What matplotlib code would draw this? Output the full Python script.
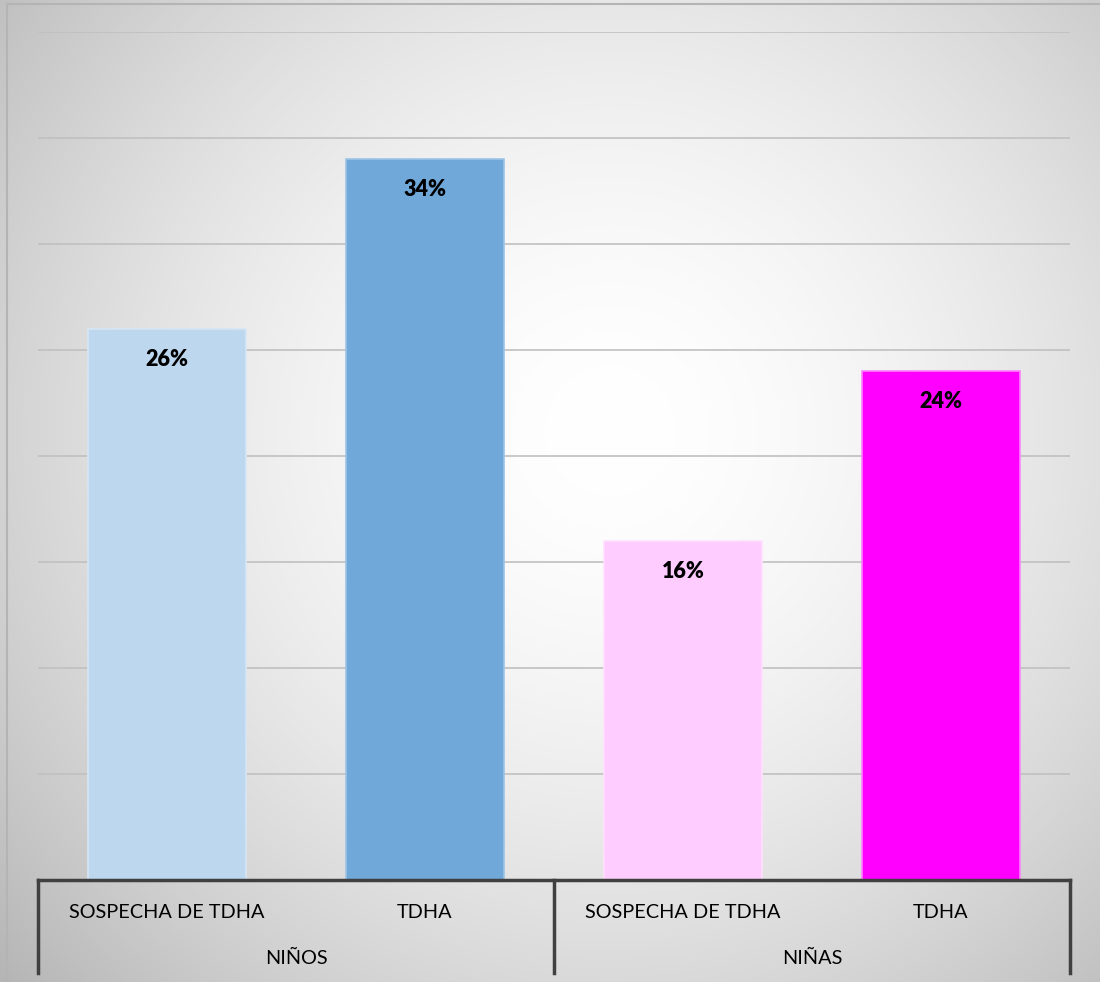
import numpy as np
import matplotlib.pyplot as plt

# Data
categories = ['SOSPECHA DE TDHA', 'TDHA', 'SOSPECHA DE TDHA', 'TDHA']
groups = ['NIÑOS', 'NIÑAS']
values = [26, 34, 16, 24]
bar_colors = ['#BDD7EE', '#70A8DA', '#FFCCFF', '#FF00FF']
edge_colors = ['#D6E6F5', '#9DC3E6', '#FFE0FF', '#FF80FF']

plt.rcParams['font.family'] = ['Lato', 'DejaVu Sans']

W, H = 1100, 982
fig = plt.figure(figsize=(W / 100, H / 100), dpi=100)

# radial gradient background
yy, xx = np.mgrid[0:H, 0:W]
r = np.sqrt((xx - 610) ** 2 + (yy - 430) ** 2) / 740.0
shade = 255 - 62 * np.clip(r, 0, 1.15) ** 1.7
img = np.dstack([shade, shade, shade]).astype(np.uint8)
bg = fig.add_axes([0, 0, 1, 1], zorder=0)
bg.imshow(img, aspect='auto', extent=[0, W, H, 0])
bg.set_xlim(0, W)
bg.set_ylim(H, 0)
bg.axis('off')
# outer chart border
bg.plot([7, 7, W], [H, 4, 4], color='#b4b4b4', lw=1.5)

left, right, top, bottom = 38, 1070, 32, 880
ax = fig.add_axes([left / W, 1 - bottom / H, (right - left) / W, (bottom - top) / H], zorder=1)
ax.patch.set_alpha(0)

x = np.arange(len(values))
bars = ax.bar(x, values, width=0.61, color=bar_colors, edgecolor=edge_colors,
              linewidth=1.2, zorder=3)

for xi, v in zip(x, values):
    ax.annotate(f'{v}%', (xi, v), xytext=(0, -22), textcoords='offset points',
                ha='center', va='center', fontsize=15.5, fontweight='heavy',
                color='black', zorder=4)

ax.set_xlim(-0.5, len(values) - 0.5)
ax.set_ylim(0, 40)
ax.set_yticks(np.arange(5, 41, 5))
ax.yaxis.grid(True, color='#c0c0c0', linewidth=1.2, zorder=0)
ax.set_axisbelow(True)
ax.tick_params(left=False, labelleft=False, bottom=False, labelbottom=False)
for s in ax.spines.values():
    s.set_visible(False)

# two-level category axis
trans = ax.get_xaxis_transform()
ax.plot([-0.5, len(values) - 0.5], [0, 0], transform=trans, color='#404040',
        lw=2.5, clip_on=False, zorder=5)
y_low = -(973 - bottom) / (bottom - top)
for xv in [-0.5, 1.5, 3.5]:
    ax.plot([xv, xv], [0, y_low], transform=trans, color='#404040',
            lw=2.5, clip_on=False, zorder=5)

y1 = -(913 - bottom) / (bottom - top)
y2 = -(958 - bottom) / (bottom - top)
for xi, lab in zip(x, categories):
    ax.text(xi, y1, lab, transform=trans, ha='center', va='center',
            fontsize=14.3, color='black')
for gi, g in enumerate(groups):
    ax.text(0.5 + 2 * gi, y2, g, transform=trans, ha='center', va='center',
            fontsize=14.3, color='black')

plt.savefig('out.png', dpi=100)
plt.close()
